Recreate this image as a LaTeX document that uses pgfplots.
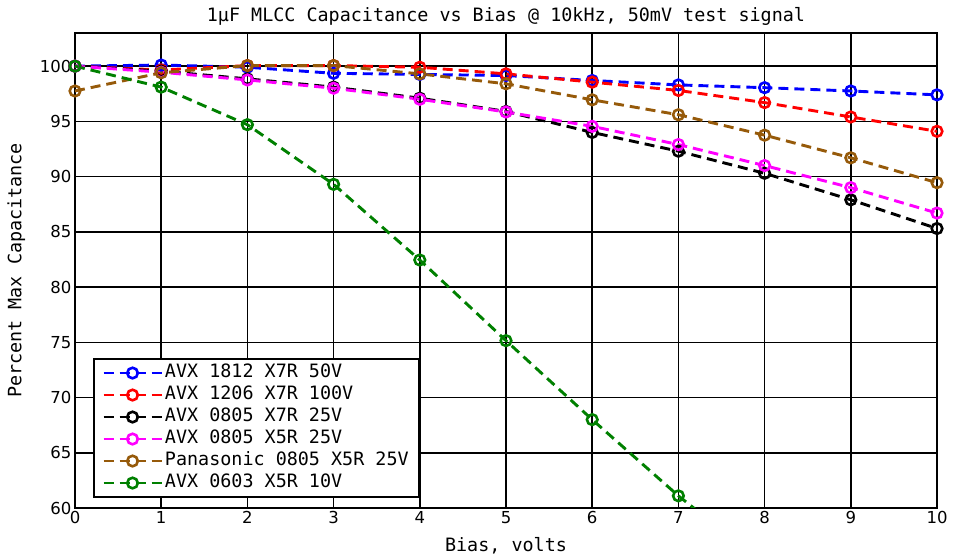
\documentclass[border=0pt]{standalone}
\usepackage{fontspec}
\setmainfont{DejaVu Sans Mono}
\setsansfont{DejaVu Sans}
\usepackage{pgfplots}
\pgfplotsset{compat=1.18}
\definecolor{cbrown}{RGB}{150,90,10}
\definecolor{cgreen}{RGB}{0,128,0}
\definecolor{cmag}{RGB}{255,0,255}
\begin{document}
\begin{tikzpicture}
\begin{axis}[
  at={(0pt,0pt)}, anchor=south west,
  scale only axis, width=862pt, height=475pt,
  xmin=0, xmax=10, ymin=60, ymax=103,
  xtick={0,...,10}, ytick={60,65,...,100},
  grid=major,
  major grid style={black, line width=1.5pt},
  axis line style={black, line width=2.2pt},
  tick style={black, line width=1.5pt},
  /pgf/number format/assume math mode=true,
  ticklabel style={font=\fontsize{16.5}{19}\sffamily},
  label style={font=\fontsize{18.4}{21}\selectfont},
  title style={font=\fontsize{18.4}{21}\selectfont, yshift=-2pt},
  title={1μF MLCC Capacitance vs Bias @ 10kHz, 50mV test signal},
  xlabel={Bias, volts},
  ylabel={Percent Max Capacitance},
  xlabel style={yshift=-7pt},
  ylabel style={yshift=8pt},
  every axis plot/.append style={line width=2.9pt, dash pattern=on 10pt off 6pt, mark=o, mark size=5.3pt, mark options={solid, line width=2.6pt}},
  legend style={at={(rel axis cs:0.021,0.021)}, anchor=south west, draw=black, line width=2pt, font=\fontsize{18.4}{21}\selectfont, row sep=0pt, inner xsep=8pt, inner ysep=3pt, nodes={inner sep=2pt, text height=13.5pt, text depth=4.5pt}},
  legend cell align=left,
  legend image code/.code={\draw[mark repeat=2,mark phase=2,#1] plot coordinates {(0pt,0pt) (29pt,0pt) (58pt,0pt)};},
  clip=true,
]
\addplot[blue] coordinates {(0,100) (1,100.1) (2,99.9) (3,99.35) (4,99.25) (5,99.15) (6,98.7) (7,98.3) (8,98.05) (9,97.75) (10,97.4)};
\addlegendentry{AVX 1812 X7R 50V}
\addplot[red] coordinates {(0,100) (1,99.65) (2,100.05) (3,100.05) (4,99.9) (5,99.3) (6,98.55) (7,97.8) (8,96.7) (9,95.4) (10,94.1)};
\addlegendentry{AVX 1206 X7R 100V}
\addplot[black] coordinates {(0,100) (1,99.55) (2,98.85) (3,98.1) (4,97.1) (5,95.9) (6,94.0) (7,92.3) (8,90.3) (9,87.9) (10,85.3)};
\addlegendentry{AVX 0805 X7R 25V}
\addplot[cmag] coordinates {(0,100) (1,99.45) (2,98.75) (3,98.0) (4,97.0) (5,95.85) (6,94.55) (7,92.9) (8,91.0) (9,89.0) (10,86.7)};
\addlegendentry{AVX 0805 X5R 25V}
\addplot[cbrown] coordinates {(0,97.75) (1,99.4) (2,100.05) (3,100.05) (4,99.3) (5,98.4) (6,96.95) (7,95.6) (8,93.75) (9,91.7) (10,89.45)};
\addlegendentry{Panasonic 0805 X5R 25V}
\addplot[cgreen] coordinates {(0,100) (1,98.1) (2,94.7) (3,89.3) (4,82.45) (5,75.15) (6,68.0) (7,61.1) (8,54.9)};
\addlegendentry{AVX 0603 X5R 10V}
\end{axis}
\pgfresetboundingbox
\useasboundingbox (-75pt,-51pt) rectangle (878pt,508pt);
\end{tikzpicture}
\end{document}
